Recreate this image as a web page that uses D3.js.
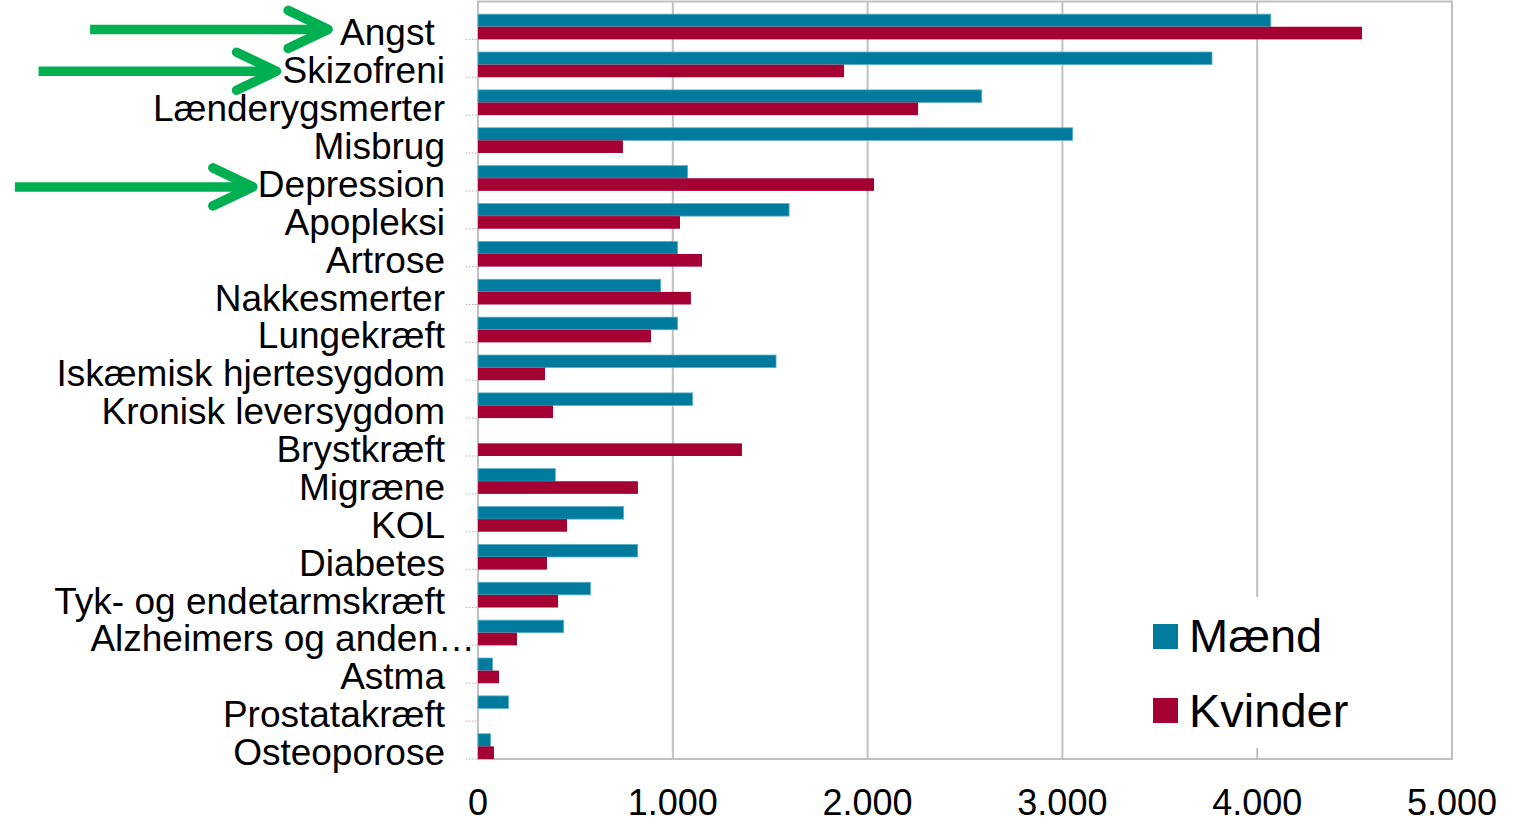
<!DOCTYPE html>
<html>
<head>
<meta charset="utf-8">
<script src="https://cdn.jsdelivr.net/npm/d3@7"></script>
<style>
  body { margin: 0; background: #fff; }
  svg { display: block; }
</style>
</head>
<body>
<div id="chart"></div>
<script>
const categories = [
  "Angst ", "Skizofreni", "Lænderygsmerter", "Misbrug", "Depression",
  "Apopleksi", "Artrose", "Nakkesmerter", "Lungekræft", "Iskæmisk hjertesygdom",
  "Kronisk leversygdom", "Brystkræft", "Migræne", "KOL", "Diabetes",
  "Tyk- og endetarmskræft", "Alzheimers og anden…", "Astma", "Prostatakræft", "Osteoporose"
];
const maend = [4070, 3768, 2586, 3053, 1076, 1597, 1025, 938, 1025, 1530,
  1102, 0, 397, 748, 820, 577, 440, 75, 157, 65];
const kvinder = [4538, 1879, 2259, 744, 2033, 1037, 1150, 1093, 888, 344,
  385, 1355, 821, 457, 354, 411, 200, 108, 0, 82];
const seriesNames = ["Mænd", "Kvinder"];
const seriesColors = ["#007b9e", "#a50034"];
const xTicks = [0, 1000, 2000, 3000, 4000, 5000];
// arrows pointing at selected labels
const arrows = [
  { label: "Angst ", dy: -16, gap: 12 },
  { label: "Skizofreni", dy: -12, gap: 6 },
  { label: "Depression", dy: -10, gap: 5 }
];

const width = 1518, height = 823;
const plot = { left: 478, right: 1452, top: 1.5, bottom: 759 };
const font = "'Liberation Sans', Arial, sans-serif";

const svg = d3.select("#chart").append("svg")
  .attr("width", width).attr("height", height);

const x = d3.scaleLinear().domain([0, 5000]).range([plot.left, plot.right]);
const y = d3.scaleBand().domain(categories).range([plot.top, plot.bottom]).padding(0);
const bw = y.bandwidth();

// gridlines
svg.append("g").selectAll("line")
  .data(xTicks.slice(1))
  .join("line")
  .attr("x1", d => x(d)).attr("x2", d => x(d))
  .attr("y1", plot.top).attr("y2", plot.bottom)
  .attr("stroke", "#c0c0c0").attr("stroke-width", 2);

// plot border
svg.append("rect")
  .attr("x", plot.left).attr("y", plot.top)
  .attr("width", plot.right - plot.left).attr("height", plot.bottom - plot.top)
  .attr("fill", "none").attr("stroke", "#c0c0c0").attr("stroke-width", 2);

// small category ticks
svg.append("g").selectAll("line")
  .data(categories)
  .join("line")
  .attr("x1", plot.left - 12).attr("x2", plot.left)
  .attr("y1", d => y(d) + bw).attr("y2", d => y(d) + bw)
  .attr("stroke", "#b0b0b0").attr("stroke-width", 1)
  .attr("stroke-dasharray", "1.5,1.5");

// bars
const rows = categories.map((c, i) => ({ c, vals: [maend[i], kvinder[i]] }));
const bars = svg.append("g").selectAll("g")
  .data(rows)
  .join("g");

bars.selectAll("rect")
  .data(d => d.vals.map((v, k) => ({ c: d.c, v, k })))
  .join("rect")
  .attr("x", x(0))
  .attr("y", d => y(d.c) + bw / 3 + d.k * bw / 3)
  .attr("width", d => Math.max(0, x(d.v) - x(0)))
  .attr("height", bw / 3)
  .attr("fill", d => seriesColors[d.k])
  .attr("stroke", d => d.k === 0 && d.v > 0 ? "#5fb2c9" : "none")
  .attr("stroke-width", 0.8);

// category labels
const labels = svg.append("g").selectAll("text")
  .data(categories)
  .join("text")
  .attr("x", d => d.endsWith("…") ? 475 : 445)
  .attr("y", d => y(d) + bw + 6)
  .attr("text-anchor", "end")
  .style("white-space", "pre")
  .style("font-family", font)
  .style("font-size", "37px")
  .attr("fill", "#000")
  .text(d => d);

// x tick labels
svg.append("g").selectAll("text")
  .data(xTicks)
  .join("text")
  .attr("x", d => x(d))
  .attr("y", 815)
  .attr("text-anchor", "middle")
  .style("font-family", font)
  .style("font-size", "36px")
  .text(d => d3.format(",")(d).replace(/,/g, "."));

// legend
const legend = svg.append("g");
legend.append("rect")
  .attr("x", 1140).attr("y", 597).attr("width", 305).attr("height", 151)
  .attr("fill", "#fff");
seriesNames.forEach((name, i) => {
  legend.append("rect")
    .attr("x", 1153).attr("y", 624 + i * 74)
    .attr("width", 25).attr("height", 25)
    .attr("fill", seriesColors[i]);
  legend.append("text")
    .attr("x", 1189).attr("y", 652 + i * 75)
    .style("font-family", font)
    .style("font-size", "47px")
    .text(name);
});

// green arrows
const arrowG = svg.append("g")
  .attr("stroke", "#00b050").attr("stroke-width", 9.5)
  .attr("stroke-linecap", "round").attr("stroke-linejoin", "round")
  .attr("fill", "none");
labels.each(function (d) {
  const a = arrows.find(a => a.label === d);
  if (!a) return;
  const len = this.getComputedTextLength();
  const tipX = 445 - len - a.gap;
  const tipY = y(d) + bw + 6 + a.dy;
  arrowG.append("line")
    .attr("x1", tipX - 238).attr("x2", tipX - 4)
    .attr("y1", tipY).attr("y2", tipY)
    .attr("stroke-linecap", "butt");
  arrowG.append("path")
    .attr("d", d3.line()([[tipX - 40, tipY - 19], [tipX, tipY], [tipX - 40, tipY + 19]]));
});
</script>
</body>
</html>
